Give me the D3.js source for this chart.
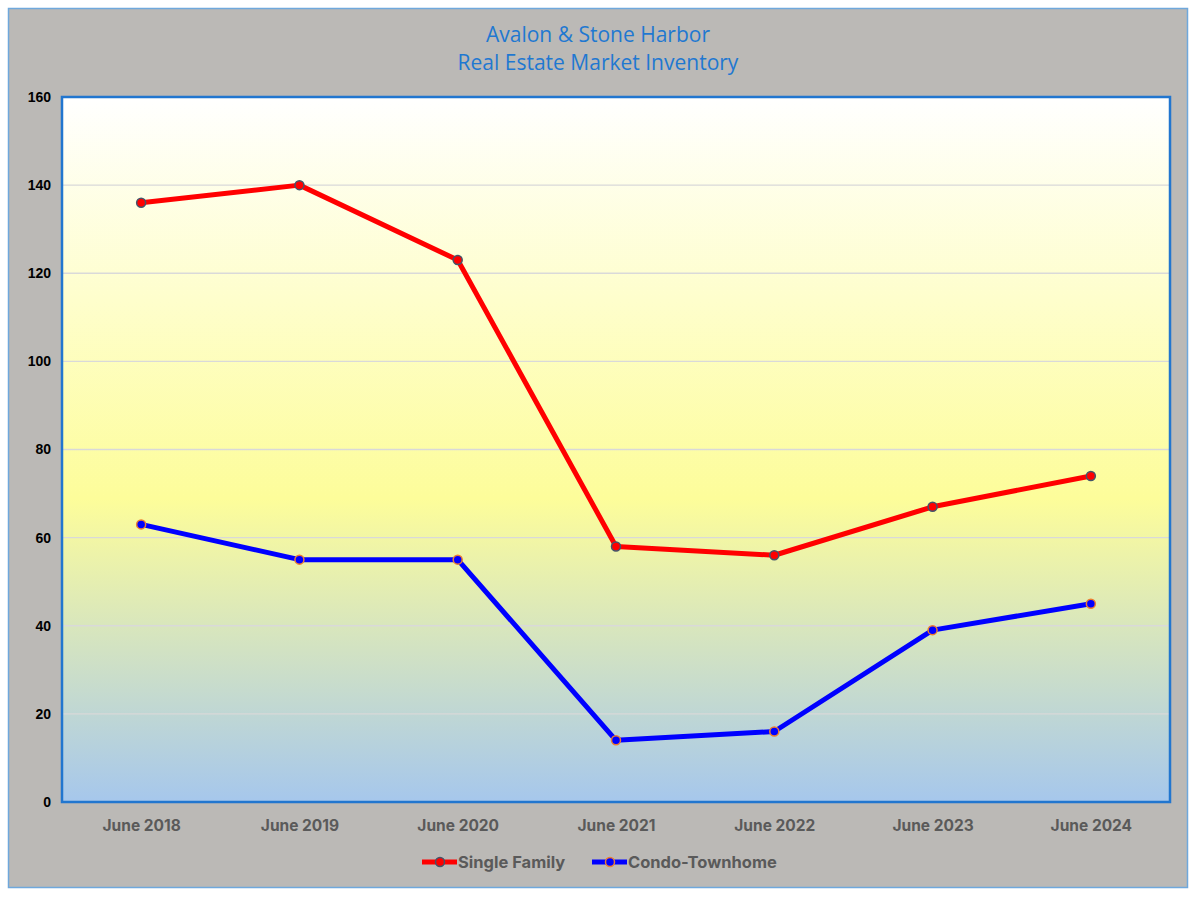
<!DOCTYPE html>
<html><head><meta charset="utf-8">
<script src="https://cdn.jsdelivr.net/npm/d3@7"></script>
<style>html,body{margin:0;padding:0;background:#fff;}svg{display:block;}</style>
</head><body>
<script>
const categories = ["June 2018","June 2019","June 2020","June 2021","June 2022","June 2023","June 2024"];
const singleFamily = [136,140,123,58,56,67,74];
const condoTownhome = [63,55,55,14,16,39,45];
const yTicks = [0,20,40,60,80,100,120,140,160];
const titleLines = ["Avalon & Stone Harbor","Real Estate Market Inventory"];

const W=1200,H=900;
const svg=d3.select("body").append("svg").attr("width",W).attr("height",H);
const defs=svg.append("defs");
const g=defs.append("linearGradient").attr("id","bg").attr("x1",0).attr("y1",0).attr("x2",0).attr("y2",1);
g.append("stop").attr("offset","0%").attr("stop-color","#ffffff");
g.append("stop").attr("offset","57%").attr("stop-color","#fdfd9a");
g.append("stop").attr("offset","100%").attr("stop-color","#a6c7ec");

svg.append("rect").attr("x",8.5).attr("y",8.5).attr("width",1179).attr("height",879)
  .attr("fill","#bbb9b6").attr("stroke","#6fa8dc").attr("stroke-width",1.5);

const m={l:62,r:1170,t:97,b:802};
const x=d3.scalePoint().domain(categories).range([m.l,m.r]).padding(0.5);
const y=d3.scaleLinear().domain([0,160]).range([m.b,m.t]);

svg.append("rect").attr("x",m.l).attr("y",m.t).attr("width",m.r-m.l).attr("height",m.b-m.t).attr("fill","url(#bg)");

svg.append("g").selectAll("line").data(yTicks.filter(d=>d>0&&d<160)).join("line")
  .attr("x1",m.l).attr("x2",m.r).attr("y1",d=>y(d)).attr("y2",d=>y(d))
  .attr("stroke","#d9d9d9").attr("stroke-width",1.3);

svg.append("rect").attr("x",m.l).attr("y",m.t).attr("width",m.r-m.l).attr("height",m.b-m.t)
  .attr("fill","none").attr("stroke","#2176cf").attr("stroke-width",2.5);

// y axis
const ya=svg.append("g").attr("transform",`translate(${m.l-6},0)`)
  .call(d3.axisLeft(y).tickValues(yTicks).tickSize(0).tickPadding(5));
ya.select(".domain").remove();
ya.selectAll("text").attr("font-family","Liberation Sans, Arial, sans-serif").attr("font-weight","bold")
  .attr("font-size",14).attr("fill","#000");

// x axis
const xa=svg.append("g").attr("transform",`translate(0,${m.b})`)
  .call(d3.axisBottom(x).tickSize(0).tickPadding(18));
xa.select(".domain").remove();
xa.selectAll("text").attr("font-family","Inter, Open Sans, sans-serif").attr("font-weight","bold")
  .attr("font-size",15.5).attr("fill","#5a5a5a");

// title
svg.append("g").selectAll("text").data(titleLines).join("text")
  .attr("x",598).attr("y",(d,i)=>42+i*28).attr("text-anchor","middle")
  .attr("font-family","Open Sans, Inter, sans-serif").attr("font-size",21).attr("fill","#1f78d1").text(d=>d);

const series=[
  {name:"Single Family",values:singleFamily,color:"#ff0000",mstroke:"#44546a"},
  {name:"Condo-Townhome",values:condoTownhome,color:"#0000ff",mstroke:"#ed7d31"}
];
const line=d3.line().x((d,i)=>x(categories[i])).y(d=>y(d));
series.forEach(s=>{
  svg.append("path").datum(s.values).attr("d",line).attr("fill","none")
    .attr("stroke",s.color).attr("stroke-width",5).attr("stroke-linejoin","round");
  svg.append("g").selectAll("circle").data(s.values).join("circle")
    .attr("cx",(d,i)=>x(categories[i])).attr("cy",d=>y(d)).attr("r",4.5)
    .attr("fill",s.color).attr("stroke",s.mstroke).attr("stroke-width",1.5);
});

// legend
const leg=[{s:series[0],x0:422},{s:series[1],x0:592}];
leg.forEach(L=>{
  const gy=862;
  svg.append("line").attr("x1",L.x0).attr("x2",L.x0+35).attr("y1",gy).attr("y2",gy)
    .attr("stroke",L.s.color).attr("stroke-width",5);
  svg.append("circle").attr("cx",L.x0+18).attr("cy",gy).attr("r",4.5)
    .attr("fill",L.s.color).attr("stroke",L.s.mstroke).attr("stroke-width",1.5);
  svg.append("text").attr("x",L.x0+36).attr("y",gy+6)
    .attr("font-family","Inter, Open Sans, sans-serif").attr("font-weight","bold")
    .attr("font-size",16.5).attr("fill","#5a5a5a").text(L.s.name);
});
</script>
</body></html>
